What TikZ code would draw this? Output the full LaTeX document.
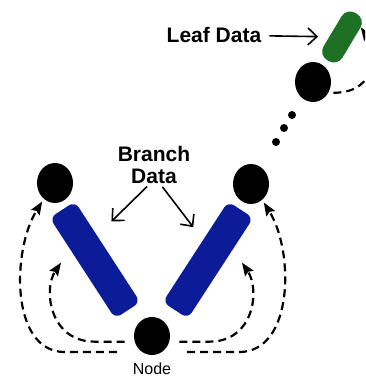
\documentclass[tikz,border=0pt]{standalone}
\usepackage{fontspec}
\setmainfont{Liberation Sans}
\usepackage{xcolor}
\usepackage{tikz}
\usetikzlibrary{shapes.geometric,arrows.meta}
\definecolor{barblue}{RGB}{12,28,152}
\definecolor{leafgreen}{RGB}{30,112,36}
\tikzstyle{hub}=[fill=black, shape=ellipse, inner sep=0pt, minimum width=36pt, minimum height=40pt]
\tikzstyle{branch bar}=[fill=barblue, shape=rectangle, rounded corners=7pt, minimum width=120pt, minimum height=30pt, inner sep=0pt]
\tikzstyle{leaf bar}=[fill=leafgreen, shape=rectangle, rounded corners=10pt, minimum width=55pt, minimum height=22pt, inner sep=0pt]
\tikzstyle{dot}=[fill=black, shape=circle, inner sep=0pt, minimum size=8pt]
\tikzstyle{bold label}=[font=\fontsize{21}{21.5}\selectfont\bfseries, inner sep=0pt, align=center]
\tikzstyle{small label}=[font=\fontsize{16}{18}\selectfont, inner sep=0pt]
\tikzstyle{flow edge}=[-{Stealth[length=13pt,width=10pt,inset=2pt]}, dash pattern=on 8pt off 5pt, line width=2.2pt]
\tikzstyle{pointer edge}=[-{Straight Barb[length=9pt,width=17pt]}, line width=1.6pt]
\pgfdeclarelayer{nodelayer}
\pgfdeclarelayer{edgelayer}
\pgfsetlayers{main,edgelayer,nodelayer}

\begin{document}
\begin{tikzpicture}[x=1pt, y=1pt]
	\useasboundingbox (0, 0) rectangle (365, -377);
	\begin{pgfonlayer}{nodelayer}
		\node [style=hub, minimum height=38pt] (0) at (152, -336) {};
		\node [style=hub] (1) at (55, -183) {};
		\node [style=hub] (2) at (251, -184) {};
		\node [style=hub] (3) at (313, -82) {};
		\node [style=leaf bar, rotate=59] (4) at (342, -37) {};
		\node [style=branch bar, rotate=-57] (5) at (95, -260) {};
		\node [style=branch bar, rotate=57] (6) at (208, -260) {};
		\node [style=dot] (7) at (292, -115) {};
		\node [style=dot] (8) at (284, -128) {};
		\node [style=dot] (9) at (276, -142) {};
		\node [style=small label, anchor=base] (10) at (152, -374) {Node};
		\node [style=bold label] (11) at (214, -35) {Leaf Data};
		\node [style=bold label] (12) at (154, -165) {Branch\\Data};
	\end{pgfonlayer}
	\begin{pgfonlayer}{edgelayer}
		\begin{scope}
		\clip (0, 0) rectangle (365, -377);
		\draw [style=flow edge, shorten <=25pt, shorten >=3pt] (0.-122) -- ++(-77, 0) .. controls +(-55, 0) and +(-32, -51) .. (1.-125);
		\draw [style=flow edge, shorten <=10pt, shorten >=16pt] (0.-162) -- ++(-40, 0) .. controls +(-45, 0) and +(-27, -40) .. (5.-146);
		\draw [style=flow edge, shorten <=25pt, shorten >=3pt] (0.-58) -- ++(77, 0) .. controls +(55, 0) and +(32, -51) .. (2.-55);
		\draw [style=flow edge, shorten <=10pt, shorten >=16pt] (0.-18) -- ++(40, 0) .. controls +(45, 0) and +(27, -40) .. (6.-34);
		\draw [style=flow edge, shorten <=5pt] (3.-35) .. controls +(52, 0) and +(14, -20) .. (4.-32);
		\draw [style=pointer edge, shorten <=8pt, shorten >=11pt] (11) to (4);
		\draw [style=pointer edge, shorten <=4pt, shorten >=20pt] ([xshift=-4pt]12.south) to (5.142);
		\draw [style=pointer edge, shorten <=4pt, shorten >=16pt] ([xshift=6pt]12.south) to (6.47);
		\end{scope}
	\end{pgfonlayer}
\end{tikzpicture}
\end{document}
